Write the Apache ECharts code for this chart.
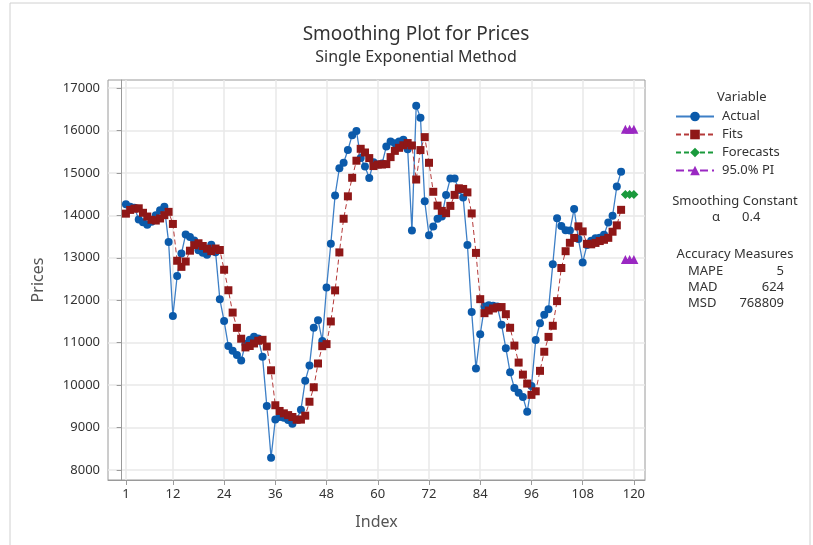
<!DOCTYPE html>
<html><head><meta charset="utf-8">
<script src="https://cdn.jsdelivr.net/npm/echarts@6/dist/echarts.min.js"></script>
<style>html,body{margin:0;padding:0;background:#fff}#c{width:813px;height:545px}</style>
</head><body><div id="c"></div>
<script>
const actual = [14260,14200,14180,13900,13840,13780,13850,14000,14120,14200,
13370,11630,12570,13100,13550,13490,13410,13180,13120,13070,
13310,13130,12020,11510,10920,10810,10710,10580,10970,11070,
11140,11100,10670,9510,8290,9190,9250,9230,9180,9090,
9190,9420,10100,10460,11350,11530,11040,12300,13330,14470,
15110,15240,15540,15890,15990,15350,15150,14880,15250,15200,
15220,15620,15740,15700,15740,15780,15560,13640,16580,16300,
14330,13530,13740,13920,13970,14480,14870,14870,14600,14420,
13300,11720,10390,11200,11850,11880,11870,11850,11420,10870,
10300,9930,9820,9720,9370,9980,11060,11460,11660,11790,
12850,13930,13750,13650,13640,14150,13440,12890,13300,13400,
13460,13470,13540,13830,13990,14680,15030];
const fits = [14040,14128,14157,14166,14060,13972,13895,13877,13926,14004,
14082,13797,12930,12786,12912,13167,13296,13342,13277,13214,
13156,13218,13183,12718,12235,11709,11349,11093,10888,10921,
10981,11045,11067,10908,10349,9525,9391,9335,9293,9248,
9185,9187,9280,9608,9949,10509,10917,10966,11500,12232,
13127,13920,14448,14885,15287,15568,15481,15349,15161,15197,
15198,15207,15372,15519,15591,15651,15703,15646,14844,15538,
15843,15238,14555,14229,14105,14051,14223,14482,14637,14622,
14541,14045,13115,12025,11695,11757,11806,11832,11839,11671,
11351,10931,10531,10247,10036,9770,9854,10336,10786,11136,
11398,11979,12759,13155,13353,13468,13741,13621,13329,13317,
13350,13394,13424,13470,13614,13764,14130];
const forecastIndex = [118,119,120];
const forecasts = [14490,14490,14490];
const piUpper = [16030,16030,16030];
const piLower = [12960,12960,12960];
const xTicks = [1,12,24,36,48,60,72,84,96,108,120];
const yTicks = [8000,9000,10000,11000,12000,13000,14000,15000,16000,17000];

const FONT = '"Noto Sans", "Open Sans", sans-serif';
const idx = actual.map((_, i) => i + 1);
const pair = (xs, ys) => xs.map((x, i) => [x, ys[i]]);

const chart = echarts.init(document.getElementById('c'), null, {renderer: 'canvas'});
chart.setOption({
  animation: false,
  backgroundColor: '#fff',
  textStyle: {fontFamily: FONT},
  grid: {left: 108, right: 168, top: 80, bottom: 65, show: true, borderColor: '#9a9a9a', borderWidth: 1, backgroundColor: 'transparent'},
  xAxis: {
    type: 'value', min: -3.2, max: 122.6,
    name: 'Index', nameLocation: 'middle', nameGap: 34,
    nameTextStyle: {fontSize: 16, color: '#555', fontFamily: FONT},
    axisLine: {show: true, onZero: false, lineStyle: {color: '#9a9a9a'}},
    axisTick: {show: true, length: 5, customValues: xTicks, lineStyle: {color: '#9a9a9a'}},
    axisLabel: {customValues: xTicks, fontSize: 13, color: '#333', margin: 8, fontFamily: FONT, formatter: v => String(v)},
    splitLine: {show: true, lineStyle: {color: '#e8e8e8', width: 1.5}}
  },
  yAxis: {
    type: 'value', min: 7764, max: 17189,
    name: 'Prices', nameLocation: 'middle', nameGap: 62, nameRotate: 90,
    nameTextStyle: {fontSize: 16, color: '#555', fontFamily: FONT},
    axisLine: {show: true, lineStyle: {color: '#9a9a9a'}},
    axisTick: {show: true, length: 5, customValues: yTicks, lineStyle: {color: '#9a9a9a'}},
    axisLabel: {customValues: yTicks, fontSize: 13, color: '#333', margin: 8, fontFamily: FONT, formatter: v => String(Math.round(v))},
    splitLine: {show: true, lineStyle: {color: '#e8e8e8', width: 1.5}}
  },
  legend: {
    orient: 'vertical', left: 670, top: 105, itemWidth: 38, itemHeight: 12, itemGap: 5,
    textStyle: {fontSize: 13, color: '#333', fontFamily: FONT, padding: [0, 0, 0, 3]},
    data: ['Actual', 'Fits', 'Forecasts', '95.0% PI']
  },
  graphic: [
    {type: 'rect', shape: {x: 10, y: 3, width: 800, height: 560}, style: {fill: 'none', stroke: '#d0d0d0', lineWidth: 1}, silent: true},
    {type: 'text', x: 416, y: 35, style: {text: 'Smoothing Plot for Prices', textAlign: 'center', textVerticalAlign: 'middle', font: '19px ' + FONT, fill: '#333'}},
    {type: 'text', x: 416, y: 57, style: {text: 'Single Exponential Method', textAlign: 'center', textVerticalAlign: 'middle', font: '16px ' + FONT, fill: '#333'}},
    {type: 'text', x: 717, y: 97, style: {text: 'Variable', textAlign: 'left', textVerticalAlign: 'middle', font: '13px ' + FONT, fill: '#333'}},
    {type: 'text', x: 735, y: 201, style: {text: 'Smoothing Constant', textAlign: 'center', textVerticalAlign: 'middle', font: '13px ' + FONT, fill: '#333'}},
    {type: 'text', x: 716, y: 217, style: {text: 'α', textAlign: 'center', textVerticalAlign: 'middle', font: '13px ' + FONT, fill: '#333'}},
    {type: 'text', x: 742, y: 217, style: {text: '0.4', textAlign: 'left', textVerticalAlign: 'middle', font: '13px ' + FONT, fill: '#333'}},
    {type: 'text', x: 735, y: 254, style: {text: 'Accuracy Measures', textAlign: 'center', textVerticalAlign: 'middle', font: '13px ' + FONT, fill: '#333'}},
    {type: 'text', x: 688, y: 271, style: {text: 'MAPE', textAlign: 'left', textVerticalAlign: 'middle', font: '13px ' + FONT, fill: '#333'}},
    {type: 'text', x: 784, y: 271, style: {text: '5', textAlign: 'right', textVerticalAlign: 'middle', font: '13px ' + FONT, fill: '#333'}},
    {type: 'text', x: 688, y: 287, style: {text: 'MAD', textAlign: 'left', textVerticalAlign: 'middle', font: '13px ' + FONT, fill: '#333'}},
    {type: 'text', x: 784, y: 287, style: {text: '624', textAlign: 'right', textVerticalAlign: 'middle', font: '13px ' + FONT, fill: '#333'}},
    {type: 'text', x: 688, y: 303, style: {text: 'MSD', textAlign: 'left', textVerticalAlign: 'middle', font: '13px ' + FONT, fill: '#333'}},
    {type: 'text', x: 784, y: 303, style: {text: '768809', textAlign: 'right', textVerticalAlign: 'middle', font: '13px ' + FONT, fill: '#333'}}
  ],
  series: [
    {name: 'Actual', type: 'line', data: pair(idx, actual), symbol: 'circle', symbolSize: 8,
     itemStyle: {color: '#0b5aaa'}, lineStyle: {color: '#3d7fc6', width: 1.3}, z: 3},
    {name: 'Fits', type: 'line', data: pair(idx, fits), symbol: 'rect', symbolSize: 8,
     itemStyle: {color: '#8f1717'}, lineStyle: {color: '#b53a3a', width: 1, type: [5, 3]}, z: 4},
    {name: 'Forecasts', type: 'line', data: pair(forecastIndex, forecasts), symbol: 'diamond', symbolSize: 9,
     itemStyle: {color: '#1a9a3c'}, lineStyle: {color: '#1a9a3c', width: 1.2, type: [5, 3]}, z: 5},
    {name: '95.0% PI', type: 'line', data: pair(forecastIndex, piUpper), symbol: 'triangle', symbolSize: 9,
     itemStyle: {color: '#9a28c2'}, lineStyle: {color: '#9a28c2', width: 1.2, type: [8, 4]}, z: 5},
    {name: '95.0% PI', type: 'line', data: pair(forecastIndex, piLower), symbol: 'triangle', symbolSize: 9,
     itemStyle: {color: '#9a28c2'}, lineStyle: {color: '#9a28c2', width: 1.2, type: [8, 4]}, z: 5}
  ]
});
</script></body></html>
